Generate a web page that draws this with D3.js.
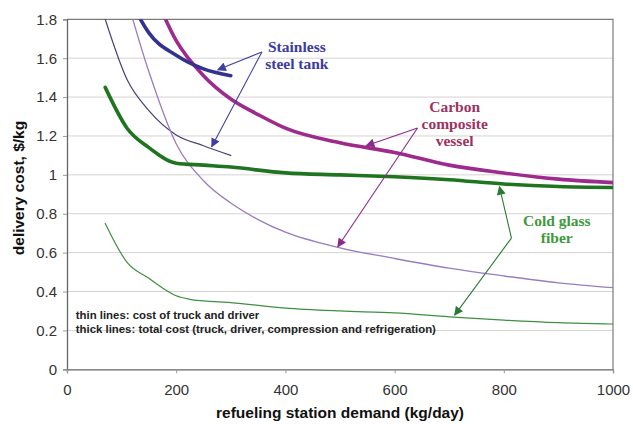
<!DOCTYPE html>
<html>
<head>
<meta charset="utf-8">
<script src="https://cdn.jsdelivr.net/npm/d3@7"></script>
<style>
	body { margin: 0; background: #fff; }
	text { font-family: "Liberation Sans", Arial, sans-serif; }
</style>
</head>
<body>
<svg id="chart" width="633" height="424"></svg>
<script>
// demand in kg/day, cost in $/kg
const stainlessThickX = [100, 125, 150, 200, 250, 300];
const stainlessThickY = [2.0, 1.85, 1.73, 1.615, 1.545, 1.51];
const stainlessThinX = [70, 110, 150, 200, 250, 300];
const stainlessThinY = [1.80, 1.49, 1.33, 1.205, 1.15, 1.10];
const carbonThickX = [150, 200, 250, 300, 350, 400, 500, 600, 700, 800, 900, 1000];
const carbonThickY = [2.0, 1.69, 1.51, 1.39, 1.31, 1.24, 1.165, 1.115, 1.05, 1.01, 0.978, 0.96];
const carbonThinX = [100, 150, 200, 250, 300, 350, 400, 500, 600, 700, 800, 900, 1000];
const carbonThinY = [2.0, 1.53, 1.16, 0.97, 0.855, 0.77, 0.705, 0.625, 0.57, 0.52, 0.48, 0.445, 0.42];
const glassThickX = [70, 110, 150, 200, 250, 300, 400, 500, 600, 700, 800, 900, 1000];
const glassThickY = [1.45, 1.24, 1.14, 1.06, 1.05, 1.04, 1.01, 1.0, 0.99, 0.975, 0.953, 0.94, 0.935];
const glassThinX = [70, 110, 150, 175, 200, 225, 250, 300, 400, 500, 600, 700, 800, 900, 1000];
const glassThinY = [0.75, 0.55, 0.468, 0.418, 0.378, 0.36, 0.352, 0.343, 0.315, 0.30, 0.29, 0.27, 0.253, 0.24, 0.233];

const xTicks = [0, 200, 400, 600, 800, 1000];
const yTicks = [0, 0.2, 0.4, 0.6, 0.8, 1, 1.2, 1.4, 1.6, 1.8];

const series = [
	{name: 'stainless thin', xs: stainlessThinX, ys: stainlessThinY, color: '#4b3f78', w: 1.2},
	{name: 'carbon thin', xs: carbonThinX, ys: carbonThinY, color: '#9a7cc0', w: 1.3},
	{name: 'glass thin', xs: glassThinX, ys: glassThinY, color: '#3f8f3f', w: 1.2},
	{name: 'glass thick', xs: glassThickX, ys: glassThickY, color: '#1f741f', w: 3.6},
	{name: 'carbon thick', xs: carbonThickX, ys: carbonThickY, color: '#9e2a8e', w: 3.6},
	{name: 'stainless thick', xs: stainlessThickX, ys: stainlessThickY, color: '#33338f', w: 3.6}
];

// labels: centre of text block in data units
const labels = [
	{lines: ['Stainless', 'steel tank'], x: 421, y: 1.614, color: '#3b3b9e'},
	{lines: ['Carbon', 'composite', 'vessel'], x: 710, y: 1.262, color: '#9c3360'},
	{lines: ['Cold glass', 'fiber'], x: 897, y: 0.717, color: '#3c993c'}
];

// arrows: from apex to head, data units
const arrows = [
	{x1: 357, y1: 1.632, x2: 276, y2: 1.54, color: '#4040a0'},
	{x1: 357, y1: 1.632, x2: 265, y2: 1.145, color: '#4040a0'},
	{x1: 642, y1: 1.241, x2: 548, y2: 1.15, color: '#8a2a8a'},
	{x1: 642, y1: 1.241, x2: 496, y2: 0.63, color: '#8a2a8a'},
	{x1: 814, y1: 0.675, x2: 792, y2: 0.94, color: '#2a7a35'},
	{x1: 814, y1: 0.675, x2: 710, y2: 0.279, color: '#2a7a35'}
];

const notes = [
	'thin lines: cost of truck and driver',
	'thick lines: total cost (truck, driver, compression and refrigeration)'
];

const mLeft = 67, mRight = 613, mTop = 19.3, mBottom = 369.3;

const svg = d3.select('#chart');

let x = d3.scaleLinear()
	.domain([0, 1000])
	.range([mLeft, mRight]);

let y = d3.scaleLinear()
	.domain([0, 1.8])
	.range([mBottom, mTop]);

// gridlines
svg.append('g')
	.selectAll('line')
	.data(yTicks.filter(d => d > 0 && d < 1.8))
	.enter()
	.append('line')
	.attr('x1', mLeft)
	.attr('x2', mRight)
	.attr('y1', d => y(d))
	.attr('y2', d => y(d))
	.attr('stroke', '#d6d2d2')
	.attr('stroke-width', 1);

// plot frame top and right
svg.append('path')
	.attr('d', `M${mLeft},${mTop}H${mRight}V${mBottom}`)
	.attr('fill', 'none')
	.attr('stroke', '#7a7a7a')
	.attr('stroke-width', 1.2);

// Y axis
let yAxis = svg.append('g')
	.attr('transform', `translate(${mLeft},0)`)
	.call(d3.axisLeft(y).tickValues(yTicks).tickSize(4).tickPadding(6)
		.tickFormat(d => String(+d.toFixed(1))));

// X axis
let xAxis = svg.append('g')
	.attr('transform', `translate(0,${mBottom})`)
	.call(d3.axisBottom(x).tickValues(xTicks).tickSize(4).tickPadding(11)
		.tickFormat(d3.format('d')));

[yAxis, xAxis].forEach(a => {
	a.select('.domain').attr('stroke', '#666').attr('stroke-width', 1.3);
	a.selectAll('.tick line').attr('stroke', '#999');
	a.selectAll('text')
		.attr('fill', '#333')
		.style('font-size', '15px');
});

// clip for curves
svg.append('clipPath')
	.attr('id', 'plot-clip')
	.append('rect')
	.attr('x', mLeft)
	.attr('y', mTop)
	.attr('width', mRight - mLeft)
	.attr('height', mBottom - mTop);

let line = d3.line()
	.x(d => x(d[0]))
	.y(d => y(d[1]))
	.curve(d3.curveMonotoneX);

svg.append('g')
	.attr('clip-path', 'url(#plot-clip)')
	.selectAll('path')
	.data(series)
	.enter()
	.append('path')
	.attr('d', s => line(s.xs.map((v, i) => [v, s.ys[i]])))
	.attr('fill', 'none')
	.attr('stroke', s => s.color)
	.attr('stroke-width', s => s.w)
	.attr('stroke-linejoin', 'round')
	.attr('stroke-linecap', 'round');

// notes
svg.append('g')
	.selectAll('text')
	.data(notes)
	.enter()
	.append('text')
	.text(d => d)
	.attr('x', x(16))
	.attr('y', (d, i) => 319 + i * 13.5)
	.attr('fill', '#222')
	.style('font-size', '11.4px')
	.style('font-weight', 'bold');

// arrows
let defs = svg.append('defs');
arrows.forEach((a, i) => {
	defs.append('marker')
		.attr('id', 'arrow' + i)
		.attr('viewBox', '0 0 10 10')
		.attr('refX', 9)
		.attr('refY', 5)
		.attr('markerWidth', 10)
		.attr('markerHeight', 9)
		.attr('markerUnits', 'userSpaceOnUse')
		.attr('orient', 'auto')
		.append('path')
		.attr('d', 'M0,0L10,5L0,10z')
		.attr('fill', a.color);
});

svg.append('g')
	.selectAll('line')
	.data(arrows)
	.enter()
	.append('line')
	.attr('x1', d => x(d.x1))
	.attr('y1', d => y(d.y1))
	.attr('x2', d => x(d.x2))
	.attr('y2', d => y(d.y2))
	.attr('stroke', d => d.color)
	.attr('stroke-width', 1.1)
	.attr('marker-end', (d, i) => `url(#arrow${i})`);

// series labels
let lab = svg.append('g')
	.selectAll('text')
	.data(labels)
	.enter()
	.append('text')
	.attr('text-anchor', 'middle')
	.attr('fill', d => d.color)
	.style('font-family', '"Liberation Serif", "Times New Roman", serif')
	.style('font-weight', 'bold')
	.style('font-size', '15.5px');

lab.selectAll('tspan')
	.data(d => d.lines.map((l, i) => ({l, i, n: d.lines.length, d})))
	.enter()
	.append('tspan')
	.attr('x', t => x(t.d.x))
	.attr('y', t => y(t.d.y) + (t.i - (t.n - 1) / 2) * 17 + 5)
	.text(t => t.l);

// axis titles
svg.append('text')
	.text('refueling station demand (kg/day)')
	.attr('x', (mLeft + mRight) / 2)
	.attr('y', 418)
	.attr('text-anchor', 'middle')
	.attr('fill', '#111')
	.style('font-size', '15.5px')
	.style('font-weight', 'bold');

svg.append('text')
	.text('delivery cost, $/kg')
	.attr('transform', `translate(24,188) rotate(-90)`)
	.attr('text-anchor', 'middle')
	.attr('fill', '#111')
	.style('font-size', '15.5px')
	.style('font-weight', 'bold');
</script>
</body>
</html>
